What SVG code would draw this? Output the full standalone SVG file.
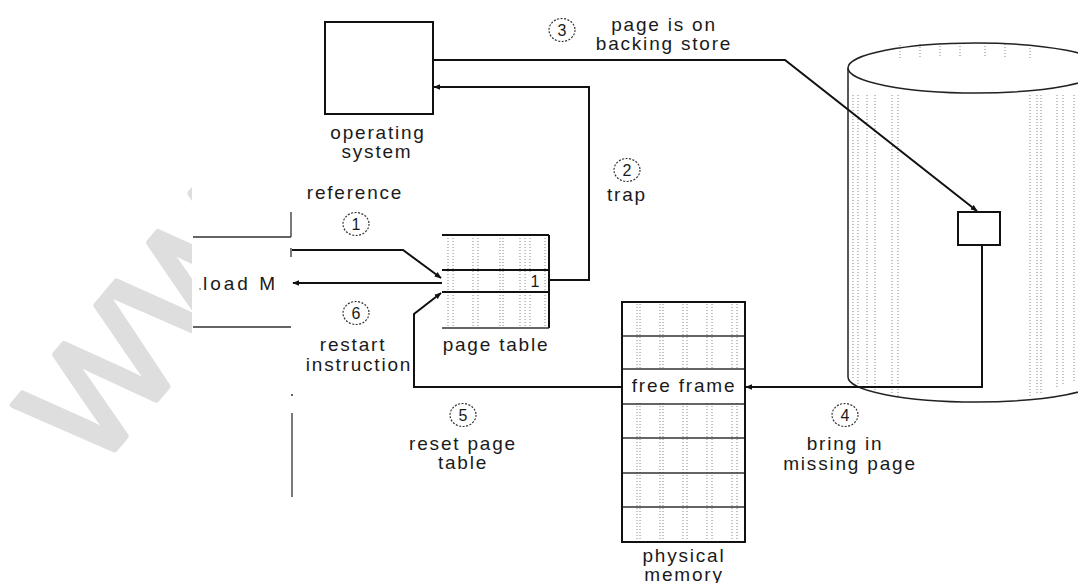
<svg xmlns="http://www.w3.org/2000/svg" width="1078" height="583" viewBox="0 0 1078 583">
<defs>
<marker id="ah" viewBox="0 0 10 10" refX="9" refY="5" markerWidth="7" markerHeight="7" orient="auto" markerUnits="userSpaceOnUse">
<path d="M0,1 L10,5 L0,9 z" fill="#111"/>
</marker>
<clipPath id="wmclip"><path d="M0,0 H192 V583 H0 z"/></clipPath>
</defs>
<style>
.t{font-family:"Liberation Sans",Arial,sans-serif;font-size:19px;letter-spacing:1.8px;fill:#1a1a1a;text-anchor:middle}
.n{font-family:"Liberation Sans",Arial,sans-serif;font-size:16px;fill:#1a1a1a;text-anchor:middle}
.c{fill:none;stroke:#333;stroke-width:1.2;stroke-dasharray:2 1.5}
.box{fill:#fff;stroke:#111;stroke-width:2}
.frame{fill:none;stroke:#111;stroke-width:2}
.ln{fill:none;stroke:#111;stroke-width:2}
.thin{fill:none;stroke:#333;stroke-width:1.3}
.dot{fill:none;stroke:#888;stroke-width:1;stroke-dasharray:1 2}
.wm{font-family:"Liberation Sans",Arial,sans-serif;font-size:155px;fill:#dedede;stroke:#dedede;stroke-width:6;stroke-linejoin:round}
</style>
<rect x="0" y="0" width="1078" height="583" fill="#fff"/>
<g id="watermark" clip-path="url(#wmclip)">
<text class="wm" transform="translate(94,474) rotate(-50)">WWW</text>
</g>

<g id="instruction">
<path class="thin" d="M193,237 H291 M291,212 V237 M193,327 H291 M292,413 V497 M291,248 V257"/>
<circle cx="292" cy="395" r="1" fill="#333"/>
<circle cx="200" cy="289" r="0.8" fill="#555"/>
<text class="t" x="203" y="290" style="text-anchor:start;letter-spacing:3px">load M</text>
</g>

<g id="os">
<rect class="box" x="325" y="22" width="108" height="92"/>
<text class="t" x="378" y="139">operating</text>
<text class="t" x="377" y="158">system</text>
</g>

<g id="pagetable">
<rect x="442" y="235" width="107" height="93" fill="#fff" stroke="none"/>
<path class="dot" d="M448,238 V327 M453,238 V327 M473,238 V327 M478,238 V327 M500,238 V327 M503,238 V327 M520,238 V327 M525,238 V327 M530,238 V327 M545,238 V327"/>
<path class="ln" d="M442,235 H549 M442,270 H549 M442,292 H549 M549,235 V328"/>
<path class="thin" d="M442,328 H549"/>
<rect x="528" y="272" width="16" height="18" fill="#fff"/>
<text class="n" x="535" y="287">1</text>
<text class="t" x="496" y="351">page table</text>
</g>

<g id="memory">
<rect x="622" y="302" width="123" height="240" fill="#fff"/>
<path class="dot" d="M637,304 V540 M640,304 V540 M660,304 V540 M663,304 V540 M683,304 V540 M687,304 V540 M707,304 V540 M712,304 V540 M732,304 V540 M737,304 V540"/>
<rect x="623" y="370" width="121" height="33" fill="#fff"/>
<path class="thin" d="M622,336 H745 M622,369 H745 M622,404 H745 M622,438 H745 M622,473 H745 M622,507 H745"/>
<rect class="frame" x="622" y="302" width="123" height="240"/>
<text class="t" x="684" y="392">free frame</text>
<text class="t" x="684" y="562">physical</text>
<text class="t" x="684" y="581">memory</text>
</g>

<g id="disk">
<path d="M848,68 V377 A128,25 0 0 0 1104,377 V68" fill="#fff" stroke="#222" stroke-width="1.5"/>
<path class="dot" d="M853,95 V380 M858,95 V385 M867,95 V390 M875,95 V392 M892,95 V395 M898,95 V396 M1030,95 V396 M1037,95 V395 M1041,95 V393 M1057,95 V388 M1063,95 V386 M1074,95 V382"/>
<path class="dot" d="M900,45 V60 M920,44 V58 M940,43 V56 M960,43 V56 M985,43 V56 M1005,44 V58 M1030,45 V60"/>
<ellipse cx="976" cy="68" rx="128" ry="25" fill="none" stroke="#222" stroke-width="1.5"/>
<rect class="box" x="958" y="212" width="42" height="33"/>
</g>

<g id="labels">
<text class="t" x="355" y="199">reference</text>
<ellipse class="c" cx="356" cy="224" rx="13" ry="11.5"/><text class="n" x="356" y="230">1</text>
<ellipse class="c" cx="356" cy="313" rx="13" ry="11.5"/><text class="n" x="356" y="319">6</text>
<text class="t" x="353" y="351">restart</text>
<text class="t" x="359" y="371">instruction</text>
<ellipse class="c" cx="562" cy="30" rx="13" ry="11.5"/><text class="n" x="562" y="36">3</text>
<text class="t" x="664" y="31">page is on</text>
<text class="t" x="664" y="50">backing store</text>
<ellipse class="c" cx="627" cy="170" rx="13" ry="11.5"/><text class="n" x="627" y="176">2</text>
<text class="t" x="627" y="201">trap</text>
<ellipse class="c" cx="463" cy="415" rx="13" ry="11.5"/><text class="n" x="463" y="421">5</text>
<text class="t" x="463" y="450">reset page</text>
<text class="t" x="463" y="469">table</text>
<ellipse class="c" cx="845" cy="415" rx="13" ry="11.5"/><text class="n" x="845" y="421">4</text>
<text class="t" x="845" y="450">bring in</text>
<text class="t" x="850" y="470">missing page</text>
</g>

<g id="connectors">
<polyline class="ln" points="292,250 403,250 441,278" marker-end="url(#ah)"/>
<line class="ln" x1="442" y1="283" x2="293" y2="283" marker-end="url(#ah)"/>
<polyline class="ln" points="549,280 589,280 589,87 434,87" marker-end="url(#ah)"/>
<polyline class="ln" points="433,60 785,60 977,211" marker-end="url(#ah)"/>
<polyline class="ln" points="982,245 982,387 746,387" marker-end="url(#ah)"/>
<polyline class="ln" points="622,387 414,387 414,314 441,293" marker-end="url(#ah)"/>
</g>
</svg>
